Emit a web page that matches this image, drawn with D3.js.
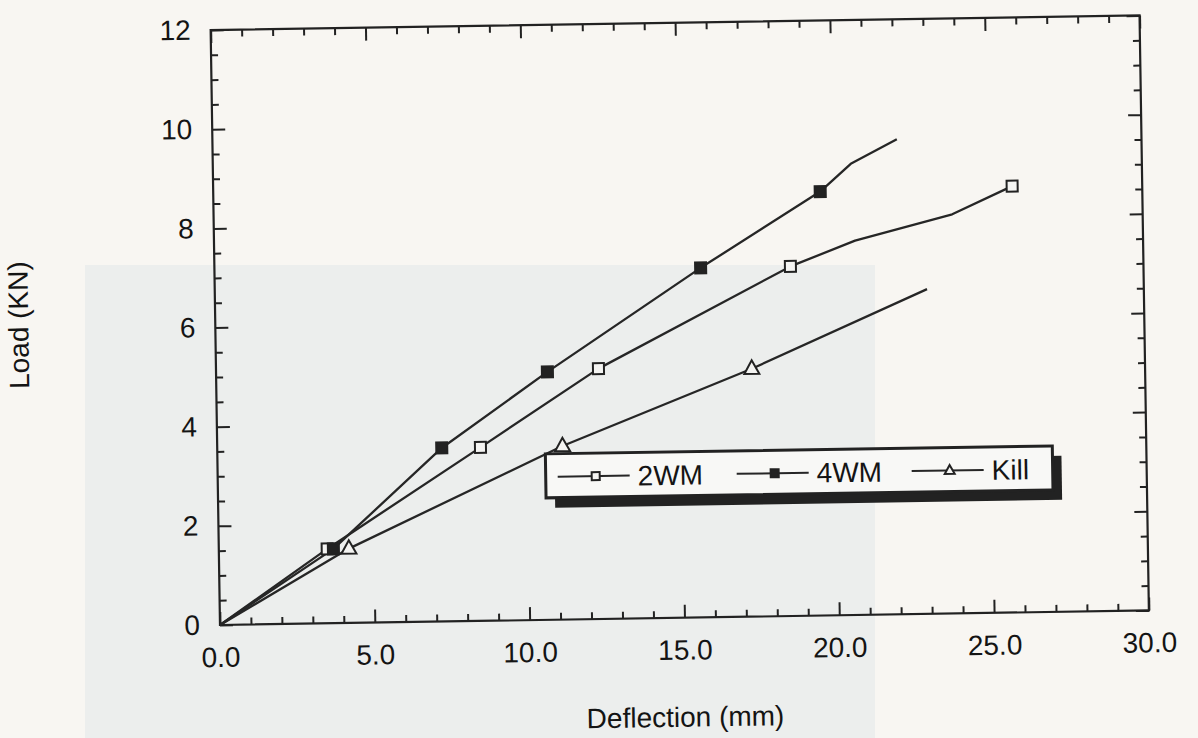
<!DOCTYPE html>
<html>
<head>
<meta charset="utf-8">
<script src="https://cdn.jsdelivr.net/npm/d3@7"></script>
<style>
  html, body { margin: 0; padding: 0; background: #f8f6f2; }
  svg { display: block; font-family: "Liberation Sans", Arial, Helvetica, sans-serif; }
</style>
</head>
<body>
<svg id="chart" width="1198" height="738"></svg>
<script>
// ============================================================
//  Data
// ============================================================

const xMajorTicks = [0, 5, 10, 15, 20, 25, 30];
const yMajorTicks = [0, 2, 4, 6, 8, 10, 12];

// 2WM — open squares
const defl2WM = [0, 3.5, 8.5, 12.35, 18.6, 20.7, 23.85, 25.8];
const load2WM = [0, 1.5, 3.5, 5.05, 7.05, 7.55, 8.05, 8.6];
const marks2WM = [1, 2, 3, 4, 7];

// 4WM — filled squares
const defl4WM = [0, 3.7, 7.25, 10.7, 15.7, 19.6, 20.6, 22.1];
const load4WM = [0, 1.5, 3.5, 5.0, 7.05, 8.55, 9.1, 9.58];
const marks4WM = [1, 2, 3, 4, 5];

// Kill — open triangles
const deflKill = [0, 4.2, 11.15, 17.3, 23.0];
const loadKill = [0, 1.5, 3.5, 5.0, 6.55];
const marksKill = [1, 2, 3];

const seriesNames = ['2WM', '4WM', 'Kill'];

// ============================================================
//  Layout
// ============================================================

const svg = d3.select('#chart');
const ink = '#222';
const textInk = '#141414';

// faint bleed-through panel from the facing page
svg.append('rect')
  .attr('x', 85).attr('y', 265).attr('width', 790).attr('height', 473)
  .attr('fill', '#eceeed');

// the scan is tilted slightly, so the whole plot sits in a rotated group
const g = svg.append('g').attr('transform', 'rotate(-0.9, 220, 625)');

const x = d3.scaleLinear().domain([0, 30]).range([220, 1149]);
const y = d3.scaleLinear().domain([0, 12]).range([625, 30]);

// frame
g.append('rect')
  .attr('x', x(0)).attr('y', y(12))
  .attr('width', x(30) - x(0)).attr('height', y(0) - y(12))
  .attr('fill', 'none').attr('stroke', ink).attr('stroke-width', 2.2);

const xMinor = d3.range(0, 31, 1).filter(v => v % 5 !== 0);
const yMinor = d3.range(0, 12.01, 0.5).filter(v => v % 2 !== 0);

function tickAxis(axisFn, scale, values, size, fmt, pad, at) {
  const a = axisFn(scale).tickValues(values).tickSizeInner(size).tickSizeOuter(0)
    .tickPadding(pad).tickFormat(fmt);
  const sel = g.append('g').attr('transform', at).call(a);
  sel.select('.domain').remove();
  sel.selectAll('line').attr('stroke', ink).attr('stroke-width', 2);
  sel.selectAll('text').attr('fill', textInk).attr('font-size', 28)
    .attr('font-family', '"Liberation Sans", Arial, Helvetica, sans-serif');
  return sel;
}

// bottom / top
tickAxis(d3.axisBottom, x, xMajorTicks, -13, d3.format('.1f'), 22, `translate(0,${y(0)})`);
tickAxis(d3.axisBottom, x, xMinor, -7, () => '', 0, `translate(0,${y(0)})`);
tickAxis(d3.axisTop, x, xMajorTicks, -13, () => '', 0, `translate(0,${y(12)})`);
tickAxis(d3.axisTop, x, xMinor, -7, () => '', 0, `translate(0,${y(12)})`);
// left / right
tickAxis(d3.axisLeft, y, yMajorTicks, -13, d3.format('d'), 20, `translate(${x(0)},0)`);
tickAxis(d3.axisLeft, y, yMinor, -7, () => '', 0, `translate(${x(0)},0)`);
tickAxis(d3.axisRight, y, yMajorTicks, -13, () => '', 0, `translate(${x(30)},0)`);
tickAxis(d3.axisRight, y, yMinor, -7, () => '', 0, `translate(${x(30)},0)`);

// axis titles
g.append('text')
  .attr('x', 684).attr('y', 734)
  .attr('text-anchor', 'middle').attr('font-size', 28).attr('fill', textInk)
  .text('Deflection (mm)');

g.append('text')
  .attr('transform', 'translate(33,322) rotate(-90)')
  .attr('text-anchor', 'middle').attr('font-size', 28).attr('fill', textInk)
  .text('Load (KN)');

// ============================================================
//  Series
// ============================================================

const line = d3.line().x(d => x(d[0])).y(d => y(d[1]));

function drawMarker(sel, type, cx, cy, s) {
  if (type === 'tri') {
    const h = s * 0.9;
    sel.append('path')
      .attr('d', `M${cx},${cy - h * 0.62}L${cx + s / 2},${cy + h * 0.38}L${cx - s / 2},${cy + h * 0.38}Z`)
      .attr('fill', '#f4f4f2').attr('stroke', ink).attr('stroke-width', 2);
  } else {
    sel.append('rect')
      .attr('x', cx - s / 2).attr('y', cy - s / 2).attr('width', s).attr('height', s)
      .attr('fill', type === 'filled' ? ink : '#f4f4f2')
      .attr('stroke', ink).attr('stroke-width', 2);
  }
}

const series = [
  { xs: defl2WM, ys: load2WM, marks: marks2WM, type: 'open', size: 11 },
  { xs: defl4WM, ys: load4WM, marks: marks4WM, type: 'filled', size: 11 },
  { xs: deflKill, ys: loadKill, marks: marksKill, type: 'tri', size: 15 },
];

series.forEach(s => {
  const pts = s.xs.map((v, i) => [v, s.ys[i]]);
  g.append('path').datum(pts)
    .attr('d', line).attr('fill', 'none')
    .attr('stroke', '#262626').attr('stroke-width', 2.3)
    .attr('stroke-linejoin', 'round');
});
series.forEach(s => {
  const mg = g.append('g');
  s.marks.forEach(i => drawMarker(mg, s.type, x(s.xs[i]), y(s.ys[i]), s.size));
});

// ============================================================
//  Legend (boxed, with a drop shadow)
// ============================================================

const lg = g.append('g');
const box = { x: 548, y: 459, w: 507, h: 44 };
lg.append('rect')
  .attr('x', box.x + 9).attr('y', box.y + 10).attr('width', box.w).attr('height', box.h)
  .attr('fill', ink);
lg.append('rect')
  .attr('x', box.x).attr('y', box.y).attr('width', box.w).attr('height', box.h)
  .attr('fill', '#f8f8f6').attr('stroke', ink).attr('stroke-width', 3);

const legendX = [560, 739, 914];
const legendTypes = ['open', 'filled', 'tri'];
const legendMid = box.y + box.h / 2 + 1;
seriesNames.forEach((name, i) => {
  const x0 = legendX[i];
  lg.append('line')
    .attr('x1', x0).attr('x2', x0 + 72).attr('y1', legendMid).attr('y2', legendMid)
    .attr('stroke', '#262626').attr('stroke-width', 2);
  drawMarker(lg, legendTypes[i], x0 + 38, legendMid, legendTypes[i] === 'tri' ? 10 : 8);
  lg.append('text')
    .attr('x', x0 + 80).attr('y', legendMid + 10)
    .attr('font-size', 28).attr('fill', textInk)
    .text(name);
});
</script>
</body>
</html>
